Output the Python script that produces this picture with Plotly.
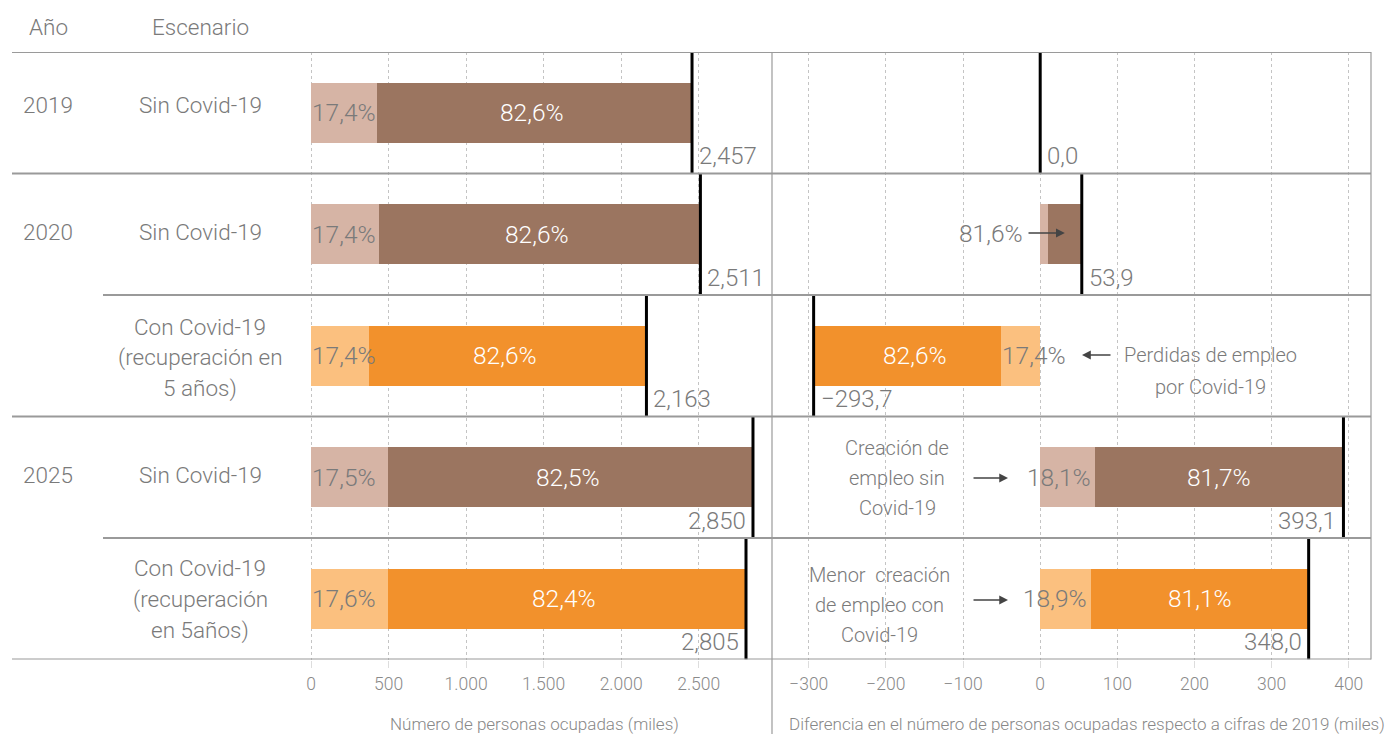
import plotly.graph_objects as go

# ---------------- data ----------------
years = ["2019", "2020", "", "2025", ""]
scenario_lines = [
    ["Sin Covid-19"],
    ["Sin Covid-19"],
    ["Con Covid-19", "(recuperación en", "5 años)"],
    ["Sin Covid-19"],
    ["Con Covid-19", "(recuperación", "en 5años)"],
]
covid = [False, False, True, False, True]
totals = [2457, 2511, 2163, 2850, 2805]
tot_share_low = [17.4, 17.4, 17.4, 17.5, 17.6]
tot_share_high = [82.6, 82.6, 82.6, 82.5, 82.4]
diffs = [0.0, 53.9, -293.7, 393.1, 348.0]
diff_share_low = [0.0, 18.4, 17.4, 18.1, 18.9]
diff_share_high = [0.0, 81.6, 82.6, 81.7, 81.1]
left_ticks = [0, 500, 1000, 1500, 2000, 2500]
right_ticks = [-300, -200, -100, 0, 100, 200, 300, 400]
left_title = "Número de personas ocupadas (miles)"
right_title = "Diferencia en el número de personas ocupadas respecto a cifras de 2019 (miles)"
header_year = "Año"
header_scen = "Escenario"
note_loss = ["Perdidas de empleo", "por Covid-19"]
note_sin = ["Creación de", "empleo sin", "Covid-19"]
note_con = ["Menor  creación", "de empleo con", "Covid-19"]

# ---------------- geometry / style ----------------
W, H = 1392, 734
TOP, BOT = 52, 659.5
ROWH = (BOT - TOP) / 5
X0L, SL = 311.0, 0.15508     # left axis: pixel of 0, px per unit
X0R, SR = 1040.2, 0.77143    # right axis
LDOM = (300, 772)
RDOM = (772, 1371)

def yv(px):
    return (px - TOP) / ROWH

def fmt_dec(v):
    s = f"{abs(v):.1f}".replace(".", ",")
    return ("\u2212" + s) if v < 0 else s

def fmt_pct(v):
    return f"{v:.1f}".replace(".", ",") + "%"

LIGHT_BROWN, DARK_BROWN = "#D6B4A5", "#9B7560"
LIGHT_ORANGE, ORANGE = "#FBC07F", "#F2912C"
TXT = "#7a7a7a"
FAM = "Roboto"
PCT = 24.5   # percentage label size
VAL = 24     # value label size
TAB = 22.5   # table text size
NOTE = 20

def font(size, color=TXT):
    return dict(family=FAM, size=size, color=color, weight=300)

def text(xref, yref, x, y, t, size, color=TXT, xanchor="center", xshift=0):
    return dict(xref=xref, yref=yref, x=x, y=y, text=t, showarrow=False,
                xanchor=xanchor, yanchor="middle", xshift=xshift, font=font(size, color))

def arrow(x_tip, x_tail, y):
    return dict(xref="x2", yref="y", x=x_tip, y=y, ax=x_tail, ay=y, axref="x2", ayref="y",
                text="", showarrow=True, arrowhead=2, arrowsize=1.1, arrowwidth=1.6,
                arrowcolor="#444")

rows = [i + 0.5 for i in range(5)]
light_col = [LIGHT_ORANGE if c else LIGHT_BROWN for c in covid]
dark_col = [ORANGE if c else DARK_BROWN for c in covid]

fig = go.Figure()

# left panel bars
low_l = [t * s / 100 for t, s in zip(totals, tot_share_low)]
high_l = [t - l for t, l in zip(totals, low_l)]
fig.add_trace(go.Bar(y=rows, x=low_l, base=[0] * 5, orientation="h", width=0.49,
                     marker=dict(color=light_col, line=dict(width=0)), xaxis="x", yaxis="y",
                     hoverinfo="skip", showlegend=False))
fig.add_trace(go.Bar(y=rows, x=high_l, base=low_l, orientation="h", width=0.49,
                     marker=dict(color=dark_col, line=dict(width=0)), xaxis="x", yaxis="y",
                     hoverinfo="skip", showlegend=False))

# right panel bars
low_r = [d * s / 100 for d, s in zip(diffs, diff_share_low)]
high_r = [d - l for d, l in zip(diffs, low_r)]
fig.add_trace(go.Bar(y=rows, x=low_r, base=[0] * 5, orientation="h", width=0.49,
                     marker=dict(color=light_col, line=dict(width=0)), xaxis="x2", yaxis="y",
                     hoverinfo="skip", showlegend=False))
fig.add_trace(go.Bar(y=rows, x=high_r, base=low_r, orientation="h", width=0.49,
                     marker=dict(color=dark_col, line=dict(width=0)), xaxis="x2", yaxis="y",
                     hoverinfo="skip", showlegend=False))

shapes = []
ann = []

# black total lines + value labels
for i in range(5):
    right_side = i >= 3
    for xr, val, txt in (("x", totals[i], f"{totals[i]:,}"), ("x2", diffs[i], fmt_dec(diffs[i]))):
        shapes.append(dict(type="line", xref=xr, yref="y", x0=val, x1=val, y0=i, y1=i + 1,
                           line=dict(color="black", width=3), layer="above"))
        ann.append(text(xr, "y", val, i + 0.86, txt, VAL,
                        xanchor="right" if right_side else "left",
                        xshift=-5 if right_side else 5))

# left panel percentage labels
for i in range(5):
    ann.append(text("x", "y", 0, rows[i], fmt_pct(tot_share_low[i]), PCT, xanchor="left", xshift=-1))
    ann.append(text("x", "y", low_l[i] + high_l[i] / 2, rows[i], fmt_pct(tot_share_high[i]),
                    PCT, "white", xshift=-3))

# right panel percentage labels
ann.append(text("x2", "y", -17.1, yv(233), fmt_pct(diff_share_high[1]), PCT,
                xanchor="right", xshift=-2))
ann.append(arrow(low_r[1] + high_r[1] / 2, -17.1, yv(233)))
ann.append(text("x2", "y", low_r[2], rows[2], fmt_pct(diff_share_low[2]), PCT,
                xanchor="left", xshift=-1))
ann.append(text("x2", "y", low_r[2] + high_r[2] / 2, rows[2], fmt_pct(diff_share_high[2]),
                PCT, "white", xshift=8))
for i in (3, 4):
    ann.append(text("x2", "y", low_r[i], rows[i], fmt_pct(diff_share_low[i]), PCT,
                    xanchor="right", xshift=-2))
    ann.append(text("x2", "y", low_r[i] + high_r[i] / 2, rows[i], fmt_pct(diff_share_high[i]),
                    PCT, "white"))

# notes with arrows (right panel)
for j, line in enumerate(note_loss):
    ann.append(text("x2", "y", 221.4, yv(355 + 32 * j), line, NOTE))
ann.append(arrow(54.2, 93.1, yv(355)))
for j, line in enumerate(note_sin):
    ann.append(text("x2", "y", -185.6, yv(448 + 30 * j), line, NOTE))
ann.append(arrow(-41.7, -88.4, yv(478)))
for j, line in enumerate(note_con):
    ann.append(text("x2", "y", -207.7, yv(575 + 30 * j), line, NOTE))
ann.append(arrow(-41.7, -88.4, yv(600)))

# table text (left)
ann.append(text("paper", "paper", 48 / W, 1 - 27 / H, header_year, TAB))
ann.append(text("paper", "paper", 200 / W, 1 - 27 / H, header_scen, TAB))
year_y = [104.5, 232, None, 474.5, None]
for i in range(5):
    if years[i]:
        ann.append(text("paper", "y", 48 / W, yv(year_y[i]), years[i], TAB))
scen_y = [[104.5], [232], [326.5, 357, 388], [474.5], [568, 599, 630]]
for i in range(5):
    for line, py in zip(scenario_lines[i], scen_y[i]):
        ann.append(text("paper", "y", 200 / W, yv(py), line, TAB))

# axis titles
ann.append(text("paper", "paper", 534 / W, 1 - 724 / H, left_title, 17, "#888"))
ann.append(text("paper", "paper", 1087 / W, 1 - 724 / H, right_title, 17, "#888"))

# horizontal row rules
rule_starts = [12, 12, 103, 12, 103, 12]
for k in range(6):
    shapes.append(dict(type="line", xref="paper", yref="y", x0=rule_starts[k] / W, x1=1371 / W,
                       y0=k, y1=k, line=dict(color="#9a9a9a", width=2), layer="above"))
# vertical separators
shapes.append(dict(type="line", xref="paper", yref="paper", x0=772 / W, x1=772 / W,
                   y0=0, y1=1 - TOP / H, line=dict(color="#9a9a9a", width=1.2)))
shapes.append(dict(type="line", xref="paper", yref="paper", x0=1371 / W, x1=1371 / W,
                   y0=1 - BOT / H, y1=1 - TOP / H, line=dict(color="#9a9a9a", width=1.2)))

axis_common = dict(showline=False, zeroline=False, showgrid=True, gridcolor="#c4c4c4",
                   gridwidth=1, griddash="3px,3px", ticks="outside", ticklen=7,
                   tickcolor="#dddddd", tickfont=font(17.5, "#8a8a8a"), tickformat=",d",
                   ticklabelstandoff=1, fixedrange=True, anchor="y")

fig.update_layout(
    width=W, height=H,
    margin=dict(l=0, r=0, t=0, b=0),
    paper_bgcolor="white", plot_bgcolor="rgba(0,0,0,0)",
    barmode="overlay", bargap=0,
    separators=",.",
    font=dict(family=FAM, color=TXT),
    xaxis=dict(domain=[LDOM[0] / W, LDOM[1] / W],
               range=[(LDOM[0] - X0L) / SL, (LDOM[1] - X0L) / SL],
               tickvals=left_ticks, **axis_common),
    xaxis2=dict(domain=[RDOM[0] / W, RDOM[1] / W],
                range=[(RDOM[0] - X0R) / SR, (RDOM[1] - X0R) / SR],
                tickvals=right_ticks, **axis_common),
    yaxis=dict(domain=[1 - BOT / H, 1 - TOP / H], range=[5, 0], visible=False,
               showgrid=False, zeroline=False, fixedrange=True),
    shapes=shapes,
    annotations=ann,
)

fig.write_html("out.html")
